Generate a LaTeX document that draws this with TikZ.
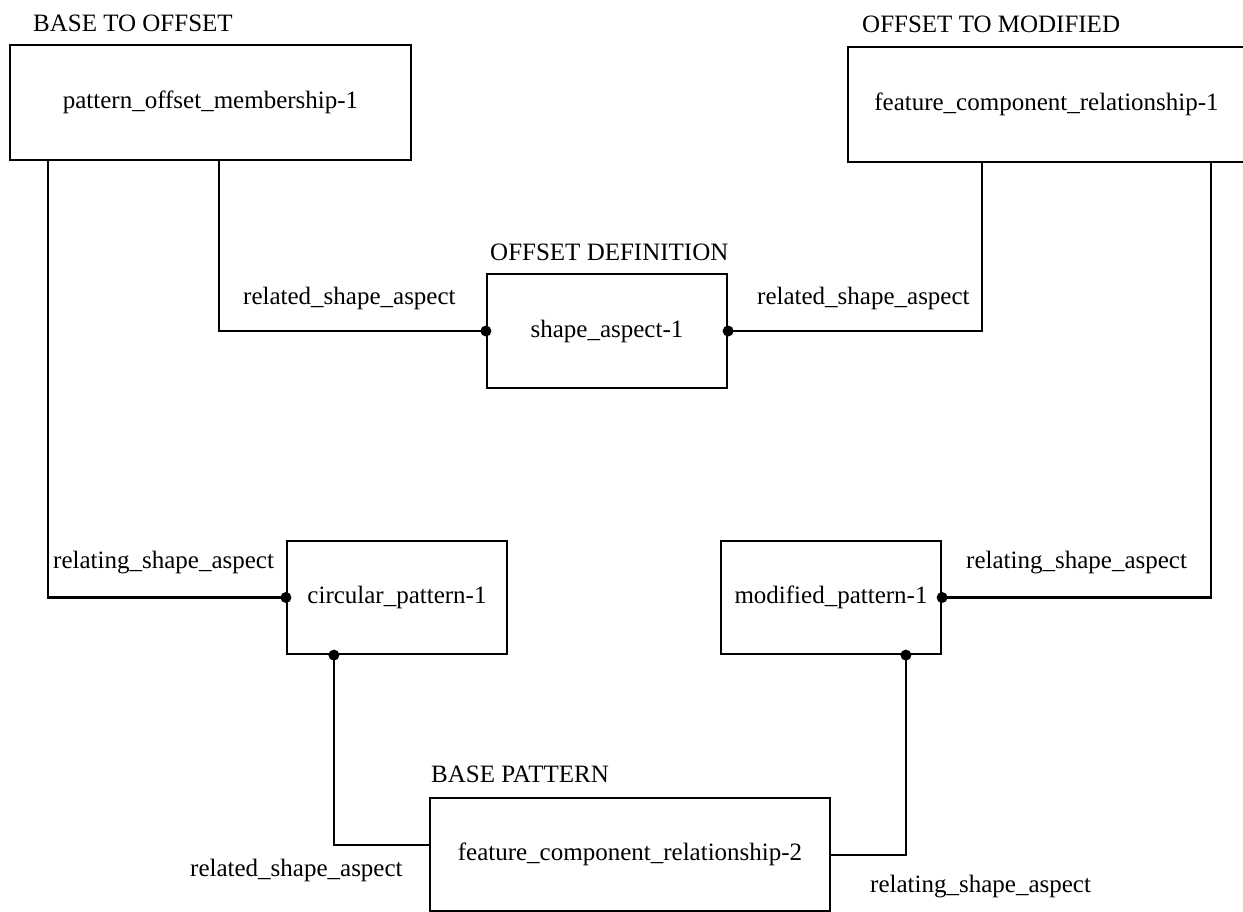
\documentclass[tikz,border=0pt]{standalone}
\usepackage{fontspec}
\setmainfont{Liberation Serif}
\usetikzlibrary{calc}
\tikzset{
  ent/.style={draw=black, line width=2.2pt, rectangle, inner sep=0pt, font=\fontsize{25}{30}\selectfont, align=center},
  lbl/.style={inner sep=0pt, anchor=base west, font=\fontsize{25}{30}\selectfont},
  conn/.style={draw=black, line width=2.2pt},
  dotfill/.style={fill=black}
}
\begin{document}
\begin{tikzpicture}[x=1pt,y=-1pt]
\useasboundingbox (0,0) rectangle (1243,912);
\clip (0,0) rectangle (1243,912);
% entities
\node[ent, minimum width=401pt, minimum height=115pt] (pom) at (210.5,102.5) {pattern\_offset\_membership-1};
\node[ent, minimum width=397pt, minimum height=115pt] (fcr1) at (1046.5,104.5) {feature\_component\_relationship-1};
\node[ent, minimum width=240pt, minimum height=114pt] (sa) at (607,331) {shape\_aspect-1};
\node[ent, minimum width=220pt, minimum height=113pt] (circ) at (397,597.5) {circular\_pattern-1};
\node[ent, minimum width=220pt, minimum height=113pt] (mod) at (831,597.5) {modified\_pattern-1};
\node[ent, minimum width=400pt, minimum height=113pt] (fcr2) at (630,854.5) {feature\_component\_relationship-2};
% group titles
\node[lbl] (t1) at (33,32) {BASE TO OFFSET};
\node[lbl] (t2) at (862,33) {OFFSET TO MODIFIED};
\node[lbl] (t3) at (490,261) {OFFSET DEFINITION};
\node[lbl] (t4) at (431,782) {BASE PATTERN};
% connectors
\draw[conn] ($(pom.south west)+(210,0)$) |- (sa.west);
\draw[conn] ($(fcr1.south west)+(135,0)$) |- (sa.east);
\draw[conn] ($(pom.south west)+(39,0)$) |- (circ.west);
\draw[conn] ($(fcr1.south west)+(364,0)$) |- (mod.east);
\draw[conn] ($(circ.south west)+(48,0)$) coordinate (cb) |- ($(fcr2.west)+(0,-9.5)$);
\draw[conn] ($(mod.south west)+(186,0)$) coordinate (mb) |- ($(fcr2.east)+(0,0.5)$);
% dots
\fill[dotfill] (sa.west) circle[radius=5.5pt];
\fill[dotfill] (sa.east) circle[radius=5.5pt];
\fill[dotfill] (circ.west) circle[radius=5.5pt];
\fill[dotfill] (mod.east) circle[radius=5.5pt];
\fill[dotfill] (cb) circle[radius=5.5pt];
\fill[dotfill] (mb) circle[radius=5.5pt];
% role labels
\node[lbl] (r1) at (243,305) {related\_shape\_aspect};
\node[lbl] (r2) at (757,305) {related\_shape\_aspect};
\node[lbl] (r3) at (53,568) {relating\_shape\_aspect};
\node[lbl] (r4) at (966,568) {relating\_shape\_aspect};
\node[lbl] (r5) at (190,876) {related\_shape\_aspect};
\node[lbl] (r6) at (870,892) {relating\_shape\_aspect};
\end{tikzpicture}
\end{document}
